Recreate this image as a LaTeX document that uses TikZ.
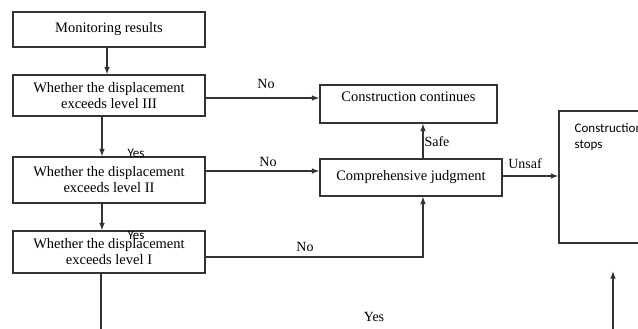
\documentclass[tikz,border=0pt]{standalone}
\usepackage{fontspec}
\setmainfont{Liberation Serif}
\newfontfamily\calib{Carlito}
\usetikzlibrary{arrows.meta}
\begin{document}
\begin{tikzpicture}[x=1pt,y=-1pt,
  box/.style={draw=black!80, line width=1.1pt, align=center, inner sep=0pt, font=\fontsize{14.5}{16}\selectfont},
  conn/.style={draw=black!80, line width=1.1pt},
  arr/.style={conn, -{Latex[length=7.5pt,width=5.5pt]}},
  lab/.style={font=\fontsize{14}{16}\selectfont, inner sep=0pt},
  slab/.style={font=\calib\fontsize{13}{16}\selectfont, inner sep=0pt}]
\clip (0,0) rectangle (638,329);
\fill[white] (0,0) rectangle (638,329);
\node[box, minimum width=192pt, minimum height=35pt] (m) at (109,29.5) {Monitoring results};
\node[box, minimum width=192pt, minimum height=41pt] (l3) at (109,95.5) {Whether the displacement\\exceeds level III};
\node[box, minimum width=192pt, minimum height=46pt] (l2) at (109,180) {Whether the displacement\\exceeds level II};
\node[box, minimum width=192pt, minimum height=42pt] (l1) at (109,252) {Whether the displacement\\exceeds level I};
\node[box, minimum width=177pt, minimum height=38pt, text depth=15pt] (cc) at (408.5,104) {Construction continues};
\node[box, minimum width=182pt, minimum height=37pt] (cj) at (411,177.5) {Comprehensive judgment};
\node[box, minimum width=101pt, minimum height=132pt,
  label={[slab, anchor=north west, align=left, xshift=16pt, yshift=-13pt]north west:Construction\\stops}] (cs) at (609.5,177) {};
\coordinate (b1) at (101,340);
\coordinate (b2) at (613,340);
\coordinate (cst) at (613,271);
\draw[arr] ([xshift=-2pt]m.south) -- ([xshift=-2pt]l3.north);
\draw[arr] ([xshift=-7pt]l3.south) -- ([xshift=-7pt]l2.north);
\draw[arr] ([xshift=-7pt]l2.south) -- ([xshift=-7pt]l1.north);
\draw[conn] ([xshift=-8pt]l1.south) -- (b1);
\draw[arr] ([yshift=-2.5pt]l3.east) -- ([yshift=-2.5pt]l3.east -| cc.west);
\draw[arr] ([yshift=9pt]l2.east) -- ([yshift=9pt]l2.east -| cj.west);
\draw[arr] ([xshift=12pt]cj.north) -- ([xshift=12pt]cj.north |- cc.south);
\draw[arr] ([yshift=1.5pt]cj.east) -- ([yshift=1.5pt]cj.east -| cs.west);
\draw[arr] ([yshift=-5pt]l1.east) -| ([xshift=12pt]cj.south);
\draw[arr] (b2) -- (cst);
\node[lab] (n1) at (266,84) {No};
\node[lab] (n2) at (268,162) {No};
\node[lab] (n3) at (305,247) {No};
\node[slab] (y1) at (136,153) {Yes};
\node[slab] (y2) at (136,235) {Yes};
\node[lab] (y3) at (374,317) {Yes};
\node[lab] (sf) at (437,142) {Safe};
\node[lab] (us) at (525,164) {Unsaf};
\end{tikzpicture}
\end{document}
